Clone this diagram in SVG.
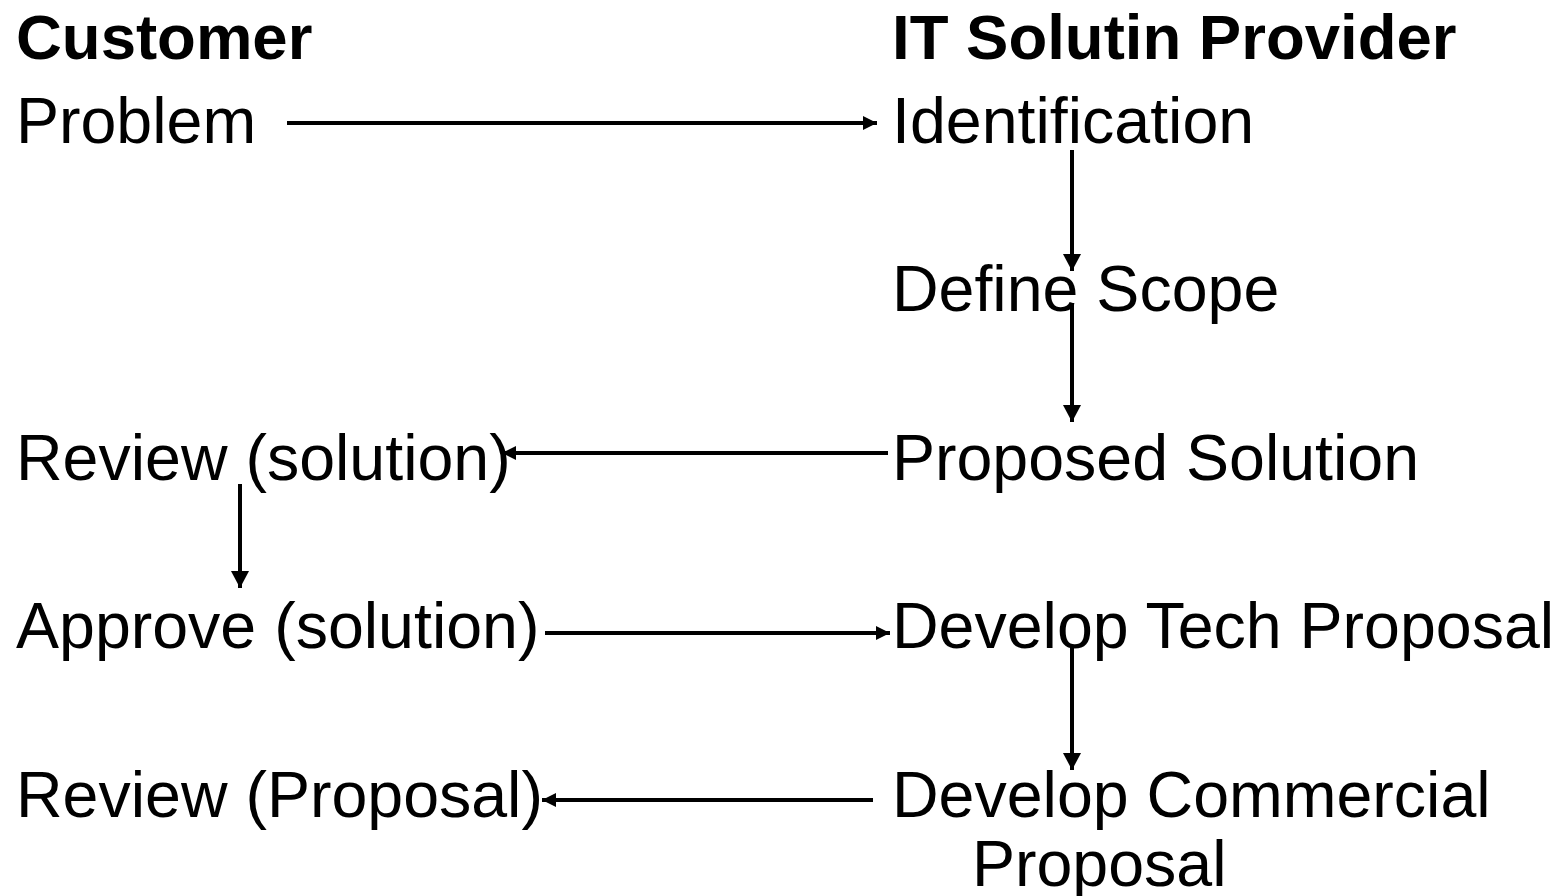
<svg xmlns="http://www.w3.org/2000/svg" width="1566" height="896" viewBox="0 0 1566 896">
<style>
text{font-family:"Liberation Sans",Arial,sans-serif;font-size:64.5px;fill:#000}
.h{font-weight:bold;font-size:63.5px}
.c{stroke:#000;stroke-width:4;fill:none}
</style>
<defs>
<marker id="av" markerUnits="userSpaceOnUse" markerWidth="18" markerHeight="18" refX="17" refY="9" orient="auto"><path d="M0,0 L17,9 L0,18 Z" fill="#000"/></marker>
<marker id="ah" markerUnits="userSpaceOnUse" markerWidth="16" markerHeight="16" refX="14" refY="8" orient="auto"><path d="M0,1 L14,8 L0,15 Z" fill="#000"/></marker>
</defs>
<rect width="1566" height="896" fill="#fff"/>
<g id="header-customer"><text class="h" x="16" y="59">Customer</text></g>
<g id="header-provider"><text class="h" x="892" y="59">IT Solutin Provider</text></g>
<g id="problem"><text x="16" y="143">Problem</text></g>
<g id="identification"><text x="892" y="143">Identification</text></g>
<g id="define-scope"><text x="892" y="311">Define Scope</text></g>
<g id="proposed-solution"><text x="892" y="480">Proposed Solution</text></g>
<g id="review-solution"><text x="16" y="480">Review (solution)</text></g>
<g id="approve-solution"><text x="16" y="648">Approve (solution)</text></g>
<g id="develop-tech"><text x="892" y="648">Develop Tech Proposal</text></g>
<g id="review-proposal"><text x="16" y="817">Review (Proposal)</text></g>
<g id="develop-commercial"><text x="892" y="817">Develop Commercial</text><text x="972" y="886">Proposal</text></g>
<g id="connectors">
<line class="c" x1="287" y1="123" x2="877" y2="123" marker-end="url(#ah)"/>
<line class="c" x1="1072" y1="150" x2="1072" y2="271" marker-end="url(#av)"/>
<line class="c" x1="1072" y1="303" x2="1072" y2="422" marker-end="url(#av)"/>
<line class="c" x1="888" y1="453" x2="502" y2="453" marker-end="url(#ah)"/>
<line class="c" x1="240" y1="484" x2="240" y2="588" marker-end="url(#av)"/>
<line class="c" x1="545" y1="633" x2="890" y2="633" marker-end="url(#ah)"/>
<line class="c" x1="1072" y1="648" x2="1072" y2="770" marker-end="url(#av)"/>
<line class="c" x1="873" y1="800" x2="542" y2="800" marker-end="url(#ah)"/>
</g>
</svg>
